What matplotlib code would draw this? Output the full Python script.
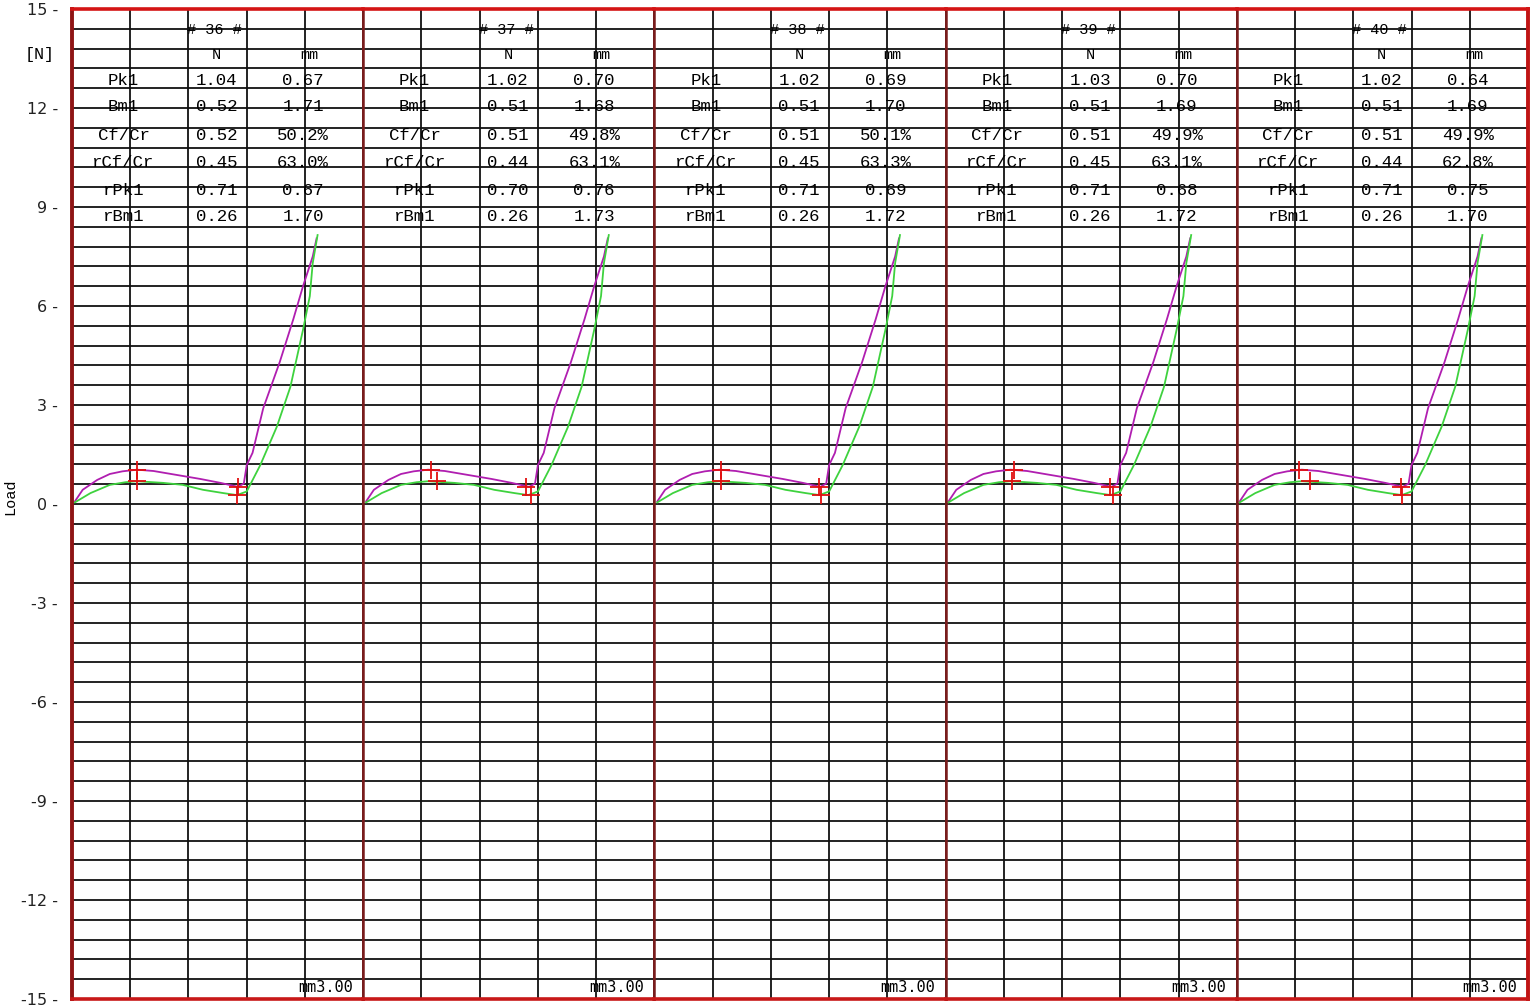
import matplotlib
matplotlib.use('Agg')
import matplotlib.pyplot as plt
from matplotlib.ticker import MultipleLocator, FuncFormatter

# specimens and the values printed in each panel's table
specimens = ['36', '37', '38', '39', '40']
pk1_n = [1.04, 1.02, 1.02, 1.03, 1.02]
pk1_mm = [0.67, 0.70, 0.69, 0.70, 0.64]
bm1_n = [0.52, 0.51, 0.51, 0.51, 0.51]
bm1_mm = [1.71, 1.68, 1.70, 1.69, 1.69]
cf_n = [0.52, 0.51, 0.51, 0.51, 0.51]
cf_pct = [50.2, 49.8, 50.1, 49.9, 49.9]
rcf_n = [0.45, 0.44, 0.45, 0.45, 0.44]
rcf_pct = [63.0, 63.1, 63.3, 63.1, 62.8]
rpk1_n = [0.71, 0.70, 0.71, 0.71, 0.71]
rpk1_mm = [0.67, 0.76, 0.69, 0.68, 0.75]
rbm1_n = [0.26, 0.26, 0.26, 0.26, 0.26]
rbm1_mm = [1.70, 1.73, 1.72, 1.72, 1.70]

# load curve (press) and return curve (mm, N)
load_x = [0.03, 0.11, 0.26, 0.39, 0.52, 0.67, 0.84, 1.08, 1.32, 1.53, 1.71,
          1.77, 1.80, 1.86, 1.97, 2.14, 2.28, 2.38, 2.48, 2.52]
load_y = [0.08, 0.43, 0.73, 0.91, 0.99, 1.04, 1.00, 0.88, 0.76, 0.64, 0.52,
          0.62, 1.18, 1.55, 2.90, 4.30, 5.60, 6.60, 7.50, 8.05]
ret_x = [0.03, 0.19, 0.39, 0.55, 0.67, 0.94, 1.14, 1.35, 1.56, 1.70, 1.80,
         1.94, 2.11, 2.25, 2.38, 2.45, 2.48, 2.53]
ret_y = [0.05, 0.33, 0.58, 0.66, 0.69, 0.64, 0.58, 0.43, 0.33, 0.27, 0.38,
         1.18, 2.34, 3.55, 5.28, 6.30, 7.30, 8.15]

row_names = ['Pk1', 'Bm1', 'Cf/Cr', 'rCf/Cr', 'rPk1', 'rBm1']

mono = 'Liberation Mono'
fig = plt.figure(figsize=(15.4, 10.08), dpi=100)
axes = fig.subplots(1, 5, sharey=True, gridspec_kw=dict(wspace=0))
fig.subplots_adjust(left=72 / 1540, right=1528 / 1540,
                    top=1 - 9 / 1008, bottom=1 - 999 / 1008)

for i, ax in enumerate(axes):
    ax.set_xlim(0, 3)
    ax.set_ylim(-15, 15)
    ax.xaxis.set_major_locator(MultipleLocator(0.6))
    ax.yaxis.set_major_locator(MultipleLocator(3))
    ax.yaxis.set_minor_locator(MultipleLocator(0.6))
    ax.grid(True, which='both', color='#111111', lw=1.3)
    ax.tick_params(axis='x', length=0, labelbottom=False)
    ax.tick_params(axis='y', which='both', length=0)
    for s in ax.spines.values():
        s.set_color('#7a1c1c')
        s.set_linewidth(1.8)
        s.set_zorder(5)
    ax.spines['top'].set_color('#d41414')
    ax.spines['bottom'].set_color('#c81818')
    ax.spines['top'].set_linewidth(2.6)
    ax.spines['bottom'].set_linewidth(2.6)

    ax.plot(load_x, load_y, color='#b01eb0', lw=1.3, zorder=3)
    ax.plot(ret_x, ret_y, color='#3ed23e', lw=1.3, zorder=3)
    ax.plot([pk1_mm[i], bm1_mm[i], rpk1_mm[i], rbm1_mm[i]],
            [pk1_n[i], bm1_n[i], rpk1_n[i], rbm1_n[i]],
            linestyle='none', marker='+', ms=13, mew=1.3, color='#e01010', zorder=4)

    # table in the top of each panel
    ax.text(1.47, 14.35, f'# {specimens[i]} #', ha='center', va='center',
            family=mono, fontsize=11)
    ax.text(1.49, 13.62, 'N', ha='center', va='center', family=mono, fontsize=11)
    ax.text(2.45, 13.62, 'mm', ha='center', va='center', family=mono, fontsize=11)
    col_n = [pk1_n[i], bm1_n[i], cf_n[i], rcf_n[i], rpk1_n[i], rbm1_n[i]]
    col_mm = [f'{pk1_mm[i]:.2f}', f'{bm1_mm[i]:.2f}', f'{cf_pct[i]:.1f}%',
              f'{rcf_pct[i]:.1f}%', f'{rpk1_mm[i]:.2f}', f'{rbm1_mm[i]:.2f}']
    row_y = [12.83, 12.04, 11.16, 10.36, 9.51, 8.72]
    for name, vn, vm, yy in zip(row_names, col_n, col_mm, row_y):
        ax.text(0.53, yy, name, ha='center', va='center', family=mono, fontsize=12.5)
        ax.text(1.49, yy, f'{vn:.2f}', ha='center', va='center', family=mono, fontsize=12.5)
        ax.text(2.38, yy, vm, ha='center', va='center', family=mono, fontsize=12.5)

    ax.text(2.89, -14.65, 'mm3.00', ha='right', va='center',
            family='DejaVu Sans Mono', fontsize=11)

# outer left/right border
axes[0].spines['left'].set_color('#8e1414')
axes[0].spines['left'].set_linewidth(2.8)
axes[-1].spines['right'].set_color('#c01414')
axes[-1].spines['right'].set_linewidth(2.8)

axes[0].yaxis.set_major_formatter(FuncFormatter(lambda v, p: f'{v:.0f} -'))
axes[0].tick_params(axis='y', which='major', pad=10, labelsize=11.5, labelcolor='#222222')

fig.text(40 / 1540, 1 - 55 / 1008, '[N]', ha='center', va='center',
         family=mono, fontsize=12)
fig.text(10 / 1540, 1 - 497 / 1008, 'Load', ha='center', va='center',
         rotation=90, family=mono, fontsize=11)

fig.savefig('out.png', dpi=100, facecolor='white')
